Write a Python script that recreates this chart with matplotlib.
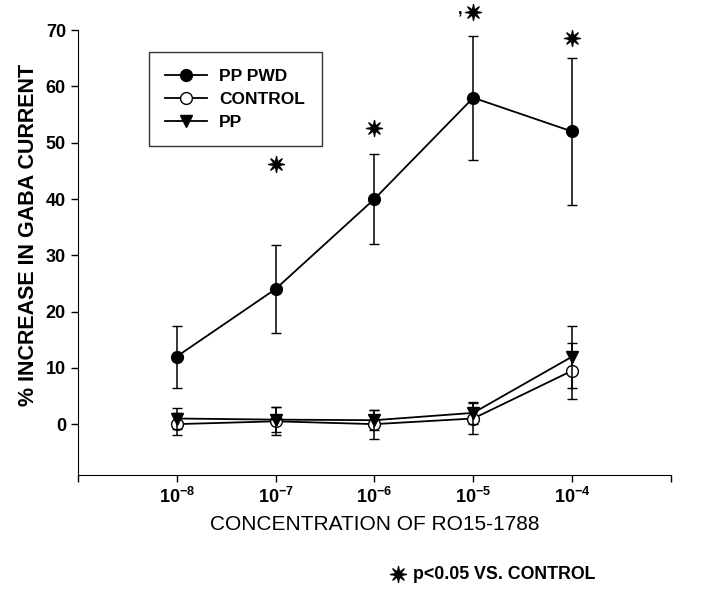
import numpy as np
import matplotlib
matplotlib.use('Agg')
import matplotlib.pyplot as plt
from matplotlib.lines import Line2D
from matplotlib.path import Path

plt.rcParams['font.family'] = ['Liberation Sans', 'DejaVu Sans']
plt.rcParams['mathtext.fontset'] = 'custom'
plt.rcParams['mathtext.rm'] = 'Liberation Sans'
plt.rcParams['mathtext.bf'] = 'Liberation Sans:bold'

# concentration of RO15-1788 (M)
conc = [1e-8, 1e-7, 1e-6, 1e-5, 1e-4]
tick_labels = ['10$^{\\mathbf{-8}}$', '10$^{\\mathbf{-7}}$', '10$^{\\mathbf{-6}}$',
               '10$^{\\mathbf{-5}}$', '10$^{\\mathbf{-4}}$']

# % increase in GABA current, with error
pp_pwd = [12, 24, 40, 58, 52]
pp_pwd_err = [5.5, 7.8, 8, 11, 13]
control = [0, 0.5, 0, 1, 9.5]
control_err = [2.0, 2.5, 2.6, 2.8, 5.0]
pp = [1, 0.8, 0.7, 2, 12]
pp_err = [1.9, 2.2, 1.8, 1.9, 5.5]

# significance stars (p<0.05 vs control)
star_conc = [1e-7, 1e-6, 1e-5, 1e-4]
star_y = [46.2, 52.7, 73.2, 68.7]

# thin 8-point star marker
ang = np.arange(16) * np.pi / 8 + np.pi / 2
rad = np.where(np.arange(16) % 2 == 0, 1.0, 0.32)
star_verts = np.column_stack([rad * np.cos(ang), rad * np.sin(ang)])
star = Path(np.vstack([star_verts, star_verts[:1]]), closed=True)

fig = plt.figure(figsize=(7.2, 5.92), dpi=100)
ax = fig.add_axes([0.108, 0.198, 0.824, 0.751])

ax.errorbar(conc, pp_pwd, yerr=pp_pwd_err, color='black', marker='o', ms=8.5,
            mfc='black', mec='black', lw=1.3, elinewidth=1.1, capsize=3.5,
            zorder=3)
ax.errorbar(conc, control, yerr=control_err, color='black', marker='o', ms=8.5,
            mfc='white', mec='black', lw=1.3, elinewidth=1.1, capsize=3.5,
            zorder=3)
ax.errorbar(conc, pp, yerr=pp_err, color='black', marker='v', ms=9,
            mfc='black', mec='black', lw=1.3, elinewidth=1.1, capsize=3.5,
            zorder=4)

ax.plot(star_conc, star_y, linestyle='none', marker=star, ms=11.5,
        color='black', clip_on=False, zorder=6)
ax.text(10 ** -5.13, 72.3, ',', fontsize=12, ha='center', va='bottom',
        fontweight='bold')

ax.set_xscale('log')
ax.set_xlim(1e-9, 1e-3)
ax.set_ylim(-9, 70)
ax.set_xticks([1e-9] + conc + [1e-3])
ax.set_xticklabels([''] + tick_labels + [''], fontsize=13, fontweight='bold')
ax.minorticks_off()
ax.set_yticks(range(0, 71, 10))
ax.set_yticklabels([str(v) for v in range(0, 71, 10)], fontsize=13,
                   fontweight='bold')
ax.tick_params(direction='out', length=5, width=1)

ax.spines['top'].set_visible(False)
ax.spines['right'].set_visible(False)

ax.set_xlabel('CONCENTRATION OF RO15-1788', fontsize=15, labelpad=6)
ax.set_ylabel('% INCREASE IN GABA CURRENT', fontsize=15.5, fontweight='bold')
ax.yaxis.set_label_coords(-0.066, 0.54)

handles = [
    Line2D([], [], color='black', lw=1.3, marker='o', ms=8.5, mfc='black'),
    Line2D([], [], color='black', lw=1.3, marker='o', ms=8.5, mfc='white'),
    Line2D([], [], color='black', lw=1.3, marker='v', ms=9, mfc='black'),
]
leg = ax.legend(handles, ['PP PWD', 'CONTROL', 'PP'], loc='upper left',
                bbox_to_anchor=(0.12, 0.95), borderaxespad=0, frameon=True,
                fancybox=False, edgecolor='black',
                prop={'weight': 'bold', 'size': 12.5}, handlelength=2.4,
                handletextpad=0.7, borderpad=0.95, labelspacing=0.45)
leg.get_frame().set_linewidth(1.0)
leg.set_zorder(5)

# footnote
fig.lines.append(Line2D([0.553], [0.030], marker=star, ms=11.5, color='black',
                        transform=fig.transFigure))
fig.text(0.573, 0.030, 'p<0.05 VS. CONTROL', fontsize=12.8, fontweight='bold',
         va='center', ha='left')

fig.savefig('out.png', dpi=100)
